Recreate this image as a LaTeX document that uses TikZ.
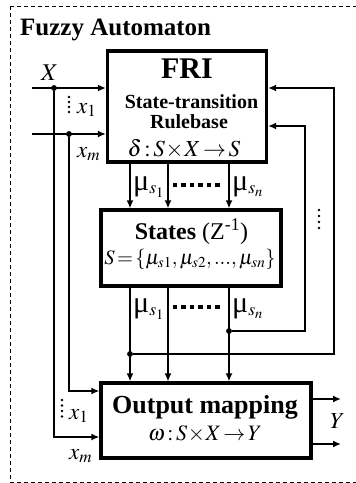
\documentclass[tikz,border=0pt]{standalone}
\usepackage{mathptmx}
\usepackage{fontspec}
\setmainfont{Liberation Serif}
\usetikzlibrary{arrows.meta}

\newcommand{\mulabel}[1]{{\fontsize{30}{32}\selectfont μ}{\fontsize{24}{28}\selectfont$_{s_{#1}}$}}

\tikzset{
  box/.style={draw, line width=3.2pt, inner sep=0pt},
  wire/.style={line width=2.6pt},
  lbl/.style={inner sep=0pt, anchor=base},
  dot/.style={circle, fill, inner sep=0pt, minimum size=5.5pt}
}

\begin{document}
\begin{tikzpicture}[x=1pt, y=-1pt, >={Latex[length=8pt,width=7pt]}]
    \useasboundingbox (0,0) rectangle (356,483);
    \draw [line width=0.8pt, dash pattern=on 4pt off 3pt] (10,6) rectangle (372,482.4);
    \node [lbl, anchor=base west, font=\fontsize{25}{30}\selectfont\bfseries] (title) at (20,35) {Fuzzy Automaton};

    % blocks
    \node [box, minimum width=159pt, minimum height=111pt] (fri) at (187,106.5) {};
    \node [box, minimum width=180pt, minimum height=76pt] (states) at (191,248) {};
    \node [box, minimum width=210pt, minimum height=75pt] (out) at (206,420.5) {};

    \node [lbl, font=\fontsize{30}{36}\selectfont\bfseries] (fri-name) at (187,78.3) {FRI};
    \node [lbl, font=\fontsize{20}{24}\selectfont\bfseries] (fri-st) at (191.5,108.3) {State-transition};
    \node [lbl, font=\fontsize{20}{24}\selectfont\bfseries] (fri-rb) at (189,128) {Rulebase};
    \node [lbl, font=\fontsize{23}{26}\selectfont] (fri-map) at (184,156.7) {$\delta\!:\!S\!\times\! X\!\rightarrow\! S$};
    \node [lbl, font=\fontsize{24}{26}\selectfont] (st-name) at (191.5,239) {\textbf{States} (Z\textsuperscript{-1})};
    \node [lbl, font=\fontsize{20.5}{24}\selectfont] (st-set) at (190,264.5) {$S\!=\!\{\mu_{s1},\mu_{s2},...,\mu_{sn}\}$};
    \node [lbl, font=\fontsize{26}{30}\selectfont\bfseries] (out-name) at (205,413.3) {Output mapping};
    \node [lbl, font=\fontsize{22}{26}\selectfont] (out-map) at (205,440) {$\omega\!:\!S\!\times\! X\!\rightarrow\! Y$};

    % helper coordinates
    \coordinate (in1) at (32,88);
    \coordinate (in2) at (32,134);
    \coordinate (c1) at (130,0);
    \coordinate (c2) at (168,0);
    \coordinate (c3) at (229,0);
    \coordinate (fb1) at (334,0);
    \coordinate (fb2) at (305,0);
    \coordinate (r1) at (0,88);
    \coordinate (r2) at (0,126);
    \coordinate (y1) at (341,399);
    \coordinate (y2) at (341,444);

    \node [dot] (j1) at (54,88) {};
    \node [dot] (j2) at (69,134) {};
    \node [dot] (j3) at (130,354) {};
    \node [dot] (j4) at (229,331) {};

    % inputs
    \draw [wire, ->] (in1) -- (fri.west |- in1);
    \draw [wire, ->] (in2) -- (fri.west |- in2);
    \draw [wire, ->] (j1) |- ([yshift=-16.5pt]out.west);
    \draw [wire, ->] (j2) |- ([yshift=29.5pt]out.west);

    % state memberships
    \foreach \c in {c1,c2,c3} {
        \draw [wire, ->] (fri.south -| \c) -- (states.north -| \c);
        \draw [wire, ->] (states.south -| \c) -- (out.north -| \c);
    }

    % feedback
    \draw [wire, ->] (j3) -- (j3 -| fb1) -- (fb1 |- r1) -- (fri.east |- r1);
    \draw [wire, ->] (j4) -- (j4 -| fb2) -- (fb2 |- r2) -- (fri.east |- r2);

    % outputs
    \draw [wire, ->] (out.east |- y1) -- (y1);
    \draw [wire, ->] (out.east |- y2) -- (y2);

    \node [dot] at (j1) {};
    \node [dot] at (j2) {};
    \node [dot] at (j3) {};
    \node [dot] at (j4) {};

    % labels
    \node [lbl, font=\fontsize{24}{28}\selectfont] (lx) at (49.5,80) {$X$};
    \node [lbl, anchor=base west, font=\fontsize{23}{28}\selectfont] (lx1) at (77,113) {$x_1$};
    \node [lbl, anchor=base west, font=\fontsize{23}{28}\selectfont] (lxm) at (77,157) {$x_m$};
    \node [lbl, anchor=base west, font=\fontsize{23}{28}\selectfont] (lx1b) at (69,419) {$x_1$};
    \node [lbl, anchor=base west, font=\fontsize{23}{28}\selectfont] (lxmb) at (69,459) {$x_m$};
    \node [lbl, font=\fontsize{23}{28}\selectfont] (ly) at (337.5,428) {$Y$};
    \node [lbl, anchor=base west] (mu1a) at (133,190) {\mulabel{1}};
    \node [lbl, anchor=base west] (muna) at (232,190) {\mulabel{n}};
    \node [lbl, anchor=base west] (mu1b) at (133,312) {\mulabel{1}};
    \node [lbl, anchor=base west] (munb) at (232,312) {\mulabel{n}};

    % dots
    \foreach \y in {97,102,107,112} \fill (69,\y) circle (1.3pt);
    \foreach \y in {400,405.5,411,416.5} \fill (62,\y) circle (1.3pt);
    \foreach \y in {210,216,222,228} \fill (319,\y) circle (1.3pt);
    \foreach \x in {175,183.5,192,200.5,209,217.5} {
        \fill (\x-2.2,183) rectangle (\x+2.2,187);
        \fill (\x-2.2,305) rectangle (\x+2.2,309);
    }
\end{tikzpicture}
\end{document}
